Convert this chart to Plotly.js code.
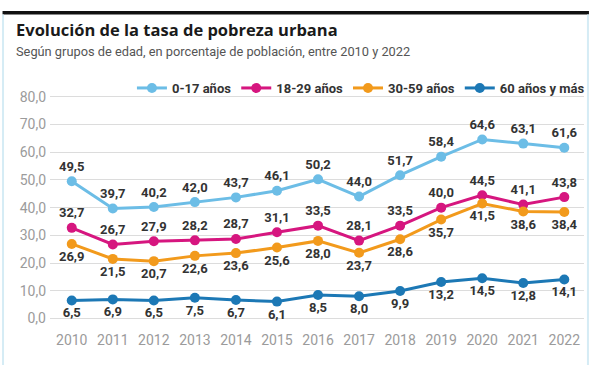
<!DOCTYPE html>
<html><head><meta charset="utf-8">
<script src="https://cdn.plot.ly/plotly-3.0.1.min.js"></script>
<style>html,body{margin:0;padding:0;background:#fff}#chart{width:600px;height:365px}</style>
</head><body><div id="chart"></div>
<script>
const years = [2010,2011,2012,2013,2014,2015,2016,2017,2018,2019,2020,2021,2022];
const age0_17 = [49.5,39.7,40.2,42.0,43.7,46.1,50.2,44.0,51.7,58.4,64.6,63.1,61.6];
const age18_29 = [32.7,26.7,27.9,28.2,28.7,31.1,33.5,28.1,33.5,40.0,44.5,41.1,43.8];
const age30_59 = [26.9,21.5,20.7,22.6,23.6,25.6,28.0,23.7,28.6,35.7,41.5,38.6,38.4];
const age60 = [6.5,6.9,6.5,7.5,6.7,6.1,8.5,8.0,9.9,13.2,14.5,12.8,14.1];
const seriesNames = ['0-17 años','18-29 años','30-59 años','60 años y más'];
const yTicks = [0,10,20,30,40,50,60,70,80];

const W=600,H=365,L=50,R=10,T=94,B=44;
const pw=W-L-R, ph=H-T-B;
const px=x=>(x-L)/pw, py=y=>(H-B-y)/ph;
const fmt=v=>v.toFixed(1).replace('.',',');
const FONT='Roboto, sans-serif';

function tr(y,name,color,pos){
  return {x:years,y:y,name:name,type:'scatter',mode:'lines+markers+text',
    line:{color:color,width:3},marker:{color:color,size:10},
    text:y.map(fmt),textposition:pos,
    textfont:{family:FONT,size:13,color:'#333',weight:700},
    cliponaxis:false,hoverinfo:'skip'};
}
const data=[
  tr(age0_17,seriesNames[0],'#6cbde6','top center'),
  tr(age18_29,seriesNames[1],'#d6167f','top center'),
  tr(age30_59,seriesNames[2],'#f29a1c','bottom center'),
  tr(age60,seriesNames[3],'#1c78b5','bottom center')
];
const layout={
  width:W,height:H,margin:{l:L,r:R,t:T,b:B},
  paper_bgcolor:'#fff',plot_bgcolor:'#fff',separators:',.',
  showlegend:true,
  legend:{orientation:'h',x:px(596),xanchor:'right',y:py(88),yanchor:'middle',
    font:{family:FONT,size:13,color:'#333',weight:700},
    traceorder:'normal',itemwidth:30,bgcolor:'rgba(0,0,0,0)'},
  xaxis:{range:[2009.47,2022.48],tickvals:years,ticktext:years.map(String),
    showgrid:false,zeroline:false,showline:false,ticks:'',ticklabelstandoff:9,
    tickfont:{family:FONT,size:14,color:'#9b9b9b'}},
  yaxis:{range:[-0.9,81],tickvals:yTicks,tickformat:'.1f',
    showgrid:true,gridcolor:'#dcdcdc',gridwidth:1,zeroline:false,showline:false,ticks:'',ticklabelstandoff:3,
    tickfont:{family:FONT,size:14,color:'#9b9b9b'}},
  shapes:[
    {type:'rect',xref:'paper',yref:'paper',x0:px(2),x1:px(595),y0:py(14.5),y1:py(11),fillcolor:'#111',line:{width:0}},
    {type:'line',xref:'paper',yref:'paper',x0:px(2.5),x1:px(2.5),y0:py(14.5),y1:py(365),line:{color:'#d5ecf5',width:2}},
    {type:'line',xref:'paper',yref:'paper',x0:px(594),x1:px(594),y0:py(14.5),y1:py(365),line:{color:'#d5ecf5',width:2}}
  ],
  annotations:[
    {xref:'paper',yref:'paper',x:px(15),y:py(42.5),xanchor:'left',yanchor:'bottom',showarrow:false,borderpad:0,
     text:'<b>Evolución de la tasa de pobreza urbana</b>',font:{family:'"Open Sans", sans-serif',size:16.5,color:'#1a1a1a'}},
    {xref:'paper',yref:'paper',x:px(15),y:py(43),xanchor:'left',yanchor:'top',showarrow:false,borderpad:0,
     text:'Según grupos de edad, en porcentaje de población, entre 2010 y 2022',font:{family:FONT,size:12.8,color:'#555'}}
  ]
};
Plotly.newPlot('chart',data,layout,{staticPlot:true,displayModeBar:false});
</script></body></html>
